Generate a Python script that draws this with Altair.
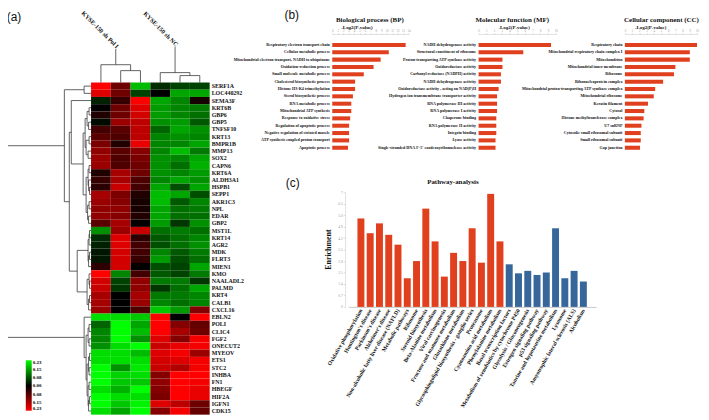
import altair as alt
import pandas as pd

# ---------------- data ----------------
genes = ["SERF1A", "LOC440292", "SEMA3F", "KRT6B", "GBP6", "GBP5", "TNFSF10", "KRT13", "BMPR1B", "MMP13",
         "SOX2", "CAPN6", "KRT6A", "ALDH3A1", "HSPB1", "SEPP1", "AKR1C3", "NPL", "EDAR", "GBP2",
         "MST1L", "KRT14", "AGR2", "MDK", "FLRT3", "MIEN1", "KMO", "NAALADL2", "PALMD", "KRT4",
         "CALB1", "CXCL16", "EBLN2", "POLI", "CLIC4", "FGF2", "ONECUT2", "MYEOV", "ETS1", "STC2",
         "INHBA", "FN1", "HBEGF", "HIF2A", "IGFN1", "CDK15"]
samples = ["Pol I-1", "Pol I-2", "Pol I-3", "NC-1", "NC-2", "NC-3"]

pol1_rep1 = [0.23, 0.20, -0.03, 0.00, 0.03, -0.01, 0.06, 0.08, 0.11, 0.13,
             0.14, 0.14, 0.03, 0.05, 0.04, 0.15, 0.14, 0.13, 0.13, 0.08,
             -0.13, -0.04, -0.03, -0.02, -0.02, 0.04, 0.23, 0.19, 0.18, 0.15,
             0.15, 0.14, -0.20, -0.09, -0.12, -0.12, -0.13, -0.20, -0.20, -0.23,
             -0.23, -0.23, -0.20, -0.23, -0.23, -0.20]
pol1_rep2 = [0.10, 0.10, 0.05, 0.10, 0.10, 0.14, 0.08, 0.07, 0.03, 0.08,
             0.07, 0.07, 0.15, 0.15, 0.18, 0.11, 0.12, 0.13, 0.12, 0.15,
             0.14, 0.20, 0.20, 0.19, 0.19, 0.19, -0.12, -0.06, -0.05, 0.00,
             0.00, 0.00, -0.20, -0.23, -0.23, -0.23, -0.20, -0.20, -0.20, -0.13,
             -0.19, -0.18, -0.16, -0.20, -0.18, -0.15]
pol1_rep3 = [-0.17, -0.06, 0.23, 0.20, 0.19, 0.17, 0.17, 0.17, 0.21, 0.12,
             0.11, 0.10, 0.10, 0.07, 0.06, 0.03, 0.02, 0.02, 0.03, 0.00,
             0.18, 0.04, 0.06, 0.06, 0.05, 0.00, 0.06, 0.13, 0.13, 0.15,
             0.14, 0.07, -0.18, -0.15, -0.17, -0.13, -0.23, -0.17, -0.20, -0.21,
             -0.20, -0.18, -0.23, -0.20, -0.22, -0.23]
nc_rep1 = [-0.04, 0.00, -0.15, -0.14, -0.14, -0.13, -0.09, -0.12, -0.12, -0.12,
           -0.13, -0.13, -0.13, -0.12, -0.15, -0.17, -0.17, -0.15, -0.15, -0.14,
           -0.10, -0.08, -0.07, -0.12, -0.14, -0.07, -0.08, -0.11, -0.05, -0.11,
           -0.12, -0.18, 0.23, 0.23, 0.23, 0.20, 0.18, 0.20, 0.19, 0.18,
           0.12, 0.13, 0.12, 0.11, 0.20, 0.12]
nc_rep2 = [-0.06, -0.15, -0.12, -0.12, -0.12, -0.14, -0.15, -0.13, -0.12, -0.17,
           -0.12, -0.10, -0.12, -0.15, -0.07, -0.15, -0.08, -0.10, -0.10, -0.05,
           -0.11, -0.10, -0.10, -0.08, -0.07, -0.06, -0.06, -0.11, -0.10, -0.11,
           -0.10, -0.14, 0.00, 0.12, 0.15, 0.12, 0.21, 0.22, 0.20, 0.16,
           0.23, 0.23, 0.23, 0.23, 0.17, 0.22]
nc_rep3 = [-0.06, -0.15, 0.02, -0.11, -0.10, -0.08, -0.13, -0.12, -0.15, -0.11,
           -0.15, -0.16, -0.14, -0.13, -0.15, -0.07, -0.12, -0.11, -0.10, -0.13,
           -0.10, -0.12, -0.13, -0.11, -0.10, -0.15, -0.11, -0.05, -0.15, -0.12,
           -0.12, 0.12, 0.23, 0.09, 0.10, 0.22, 0.22, 0.14, 0.22, 0.22,
           0.23, 0.22, 0.21, 0.21, 0.10, 0.09]
legend_ticks = [-0.23, -0.15, -0.08, 0.0, 0.08, 0.15, 0.23]

# dendrograms: (merge height, left, right); ints are leaf indices
row_tree = (90,
            (27, (7, 0, 1),
                 (22, (20, 2, (8, (6, (4, (2, 3, 4), (2.5, 5, 6)), (5, (2, 7, 8), (3, 9, 10))),
                                  (5, (3, (2, 11, 12), (2.5, 13, (1.5, 14, 15))), (3.5, (2, 16, 17), (2.5, 18, 19))))),
                      (14, (3, (2, (1.5, 20, 21), 22), (2.5, (1.5, 23, 24), 25)),
                           (4, (2, 26, (1.5, 27, 28)), (2.5, (1.5, 29, 30), 31))))),
            (7, 32, (5, (3, (2, 33, 34), (2, 35, 36)),
                        (4, (2.5, (1.5, 37, 38), (2, 39, 40)), (3, (2, 41, 42), (2.5, (1.5, 43, 44), 45))))))
pol1_tree, pol1_top = (18, 0, (12, 1, 2)), 34
nc_tree, nc_top = (10, 3, (7, 4, 5)), 36
col_groups = ["KYSE-150 sh Pol I", "KYSE-150 sh NC"]

bp_terms = ["Respiratory electron transport chain", "Cellular metabolic process",
            "Mitochondrial electron transport, NADH to ubiquinone", "Oxidation-reduction process",
            "Small molecule metabolic process", "Cholesterol biosynthetic process",
            "Histone H3-K4 trimethylation", "Sterol biosynthetic process", "RNA metabolic process",
            "Mitochondrial ATP synthesis", "Response to oxidative stress", "Regulation of apoptotic process",
            "Negative regulation of striated muscle", "ATP synthesis coupled proton transport", "Apoptotic process"]
bp_values = [13.5, 10.4, 8.9, 7.6, 5.8, 4.2, 4.2, 3.8, 3.5, 3.5, 3.3, 3.1, 3.1, 3.1, 2.9]
mf_terms = ["NADH dehydrogenase activity", "Structural constituent of ribosome",
            "Proton-transporting ATP synthase activity", "Oxidoreductase activity",
            "Carbonyl reductase (NADPH) activity", "NADH dehydrogenase activity ",
            "Oxidoreductase activity , acting on NAD(P)H", "Hydrogen ion transmembrane transporter activity",
            "RNA polymerase III activity", "RNA polymerase I activity", "Chaperone binding",
            "RNA polymerase II activity", "Integrin binding", "Lyase activity",
            "Single-stranded DNA 3'-5' exodeoxyribonuclease activity"]
mf_values = [9.4, 5.8, 3.1, 3.1, 2.9, 2.9, 2.6, 2.4, 2.4, 2.4, 2.3, 2.3, 2.3, 2.2, 2.2]
cc_terms = ["Respiratory chain", "Mitochondrial respiratory chain complex I", "Mitochondrion",
            "Mitochondrial inner membrane", "Ribosome", "Ribonucleoprotein complex",
            "Mitochondrial proton-transporting ATP synthase complex", "Mitochondrial ribosome",
            "Keratin filament", "Cytosol", "Histone methyltransferase complex", "U7 snRNP",
            "Cytosolic small ribosomal subunit", "Small ribosomal subunit", "Gap junction"]
cc_values = [10.0, 9.0, 9.0, 7.0, 6.8, 5.3, 4.2, 4.0, 3.2, 2.7, 2.6, 2.3, 2.2, 2.2, 2.1]

up_pathways = ["Oxidative phosphorylation", "Huntington's disease", "Parkinson's disease", "Alzheimer's disease",
               "Non-alcoholic fatty liver disease (NAFLD)", "Metabolic pathways", "Ribosome",
               "Steroid biosynthesis", "Beta-Alanine metabolism", "Viral carcinogenesis",
               "Fructose and mannose metabolism", "Glutathione metabolism",
               "Glycosphingolipid biosynthesis - ganglio series", "Proteasome",
               "Cyanoamino acid metabolism", "Phenylalanine metabolism"]
up_enrich = [5.4, 4.5, 5.1, 4.4, 3.8, 1.75, 2.8, 6.0, 4.0, 1.85, 3.3, 2.8, 4.8, 2.7, 6.9, 4.0]
down_pathways = ["Basal transcription factors", "Metabolism of xenobiotics by cytochrome P450",
                 "Glycolysis / Gluconeogenesis", "Estrogen signaling pathway", "p53 signaling pathway",
                 "Taurine and hypotaurine metabolism", "Lysosome", "Amyotrophic lateral sclerosis (ALS)",
                 "Alcoholism"]
down_enrich = [2.6, 2.05, 2.2, 1.95, 2.1, 4.8, 1.75, 2.2, 1.55]
enrich_ticks = [0, 0.7, 1.4, 2.1, 2.8, 3.5, 4.2, 4.9, 5.6, 6.3, 7]

# ---------------- layout / style ----------------
W, H = 701, 409
RED, BLUE = "#E1401F", "#37679A"
SERIF, SANS = "Liberation Serif", "Liberation Sans"
LINE = "#3a3a3a"


def tree_segments(node, segs):
    if isinstance(node, int):
        return node + 0.5, 0.0
    h, left, right = node
    pl, hl = tree_segments(left, segs)
    pr, hr = tree_segments(right, segs)
    segs.append(dict(p1=pl, p2=pr, h1=h, h2=h))
    segs.append(dict(p1=pl, p2=pl, h1=hl, h2=h))
    segs.append(dict(p1=pr, p2=pr, h1=hr, h2=h))
    return (pl + pr) / 2, h


# heatmap
heat_rows = []
for s, col in zip(samples, [pol1_rep1, pol1_rep2, pol1_rep3, nc_rep1, nc_rep2, nc_rep3]):
    for g, v in zip(genes, col):
        heat_rows.append(dict(gene=g, sample=s, value=v))
heat_df = pd.DataFrame(heat_rows)

heat_y = alt.Y("gene:N", sort=genes, axis=None,
               scale=alt.Scale(range=[73, H], paddingInner=0, paddingOuter=0))
# the colour channel uses the negated value so that the vertical legend shows green on top
heat = alt.Chart(heat_df).transform_calculate(shade="-datum.value").mark_rect().encode(
    x=alt.X("sample:N", sort=samples, axis=None,
            scale=alt.Scale(range=[84, 204], paddingInner=0, paddingOuter=0)),
    y=heat_y,
    color=alt.Color("shade:Q",
                    scale=alt.Scale(domain=[-0.23, 0, 0.23], range=["#ff0000", "#000000", "#00ff00"],
                                    interpolate="rgb"),
                    legend=alt.Legend(orient="none", legendX=18, legendY=354, direction="vertical",
                                      gradientLength=51, gradientThickness=6, values=legend_ticks,
                                      labelExpr="format(abs(datum.value), '.2f')", labelFont=SERIF,
                                      labelFontWeight="bold", labelFontSize=5, labelOffset=1,
                                      labelOverlap=False, title=None, padding=0, gradientStrokeWidth=0)),
)
gene_text = alt.Chart(pd.DataFrame(dict(gene=genes))).mark_text(
    align="left", baseline="middle", font=SERIF, fontWeight="bold", fontSize=6, color="#111"
).encode(y=heat_y, x=alt.value(206), text="gene:N")
heat_layer = alt.layer(heat, gene_text)

# row dendrogram
row_segs = []
tree_segments(row_tree, row_segs)
row_dend = alt.Chart(pd.DataFrame(row_segs)).mark_rule(color=LINE, strokeWidth=0.8).encode(
    x=alt.X("h1:Q", axis=None, scale=alt.Scale(domain=[0, 90], range=[84, -6], nice=False, zero=False)),
    x2="h2:Q",
    y=alt.Y("p1:Q", axis=None, scale=alt.Scale(domain=[0, 46], range=[73, H], nice=False, zero=False)),
    y2="p2:Q",
)

# column dendrogram
col_segs, lab_rows = [], []
for tree, top, name in [(pol1_tree, pol1_top, col_groups[0]), (nc_tree, nc_top, col_groups[1])]:
    p, h = tree_segments(tree, col_segs)
    col_segs.append(dict(p1=p, p2=p, h1=h, h2=top))
    lab_rows.append(dict(label=name, p=p + 0.1, h=top + 1.5))
cx = alt.Scale(domain=[0, 6], range=[84, 204], nice=False, zero=False)
cy = alt.Scale(domain=[0, 40], range=[73, 33], nice=False, zero=False)
col_dend = alt.Chart(pd.DataFrame(col_segs)).mark_rule(color=LINE, strokeWidth=0.8).encode(
    x=alt.X("p1:Q", axis=None, scale=cx), x2="p2:Q",
    y=alt.Y("h1:Q", axis=None, scale=cy), y2="h2:Q",
)
col_lab = alt.Chart(pd.DataFrame(lab_rows)).mark_text(
    angle=45, align="right", baseline="middle", font=SERIF, fontWeight="bold", fontSize=6.3, color="#111"
).encode(x=alt.X("p:Q", axis=None, scale=cx), y=alt.Y("h:Q", axis=None, scale=cy), text="label:N")
col_layer = alt.layer(col_dend, col_lab)


# GO bar panels
def go_panel(terms, values, x0, x1, dmax):
    df = pd.DataFrame(dict(term=terms, value=values))
    return alt.Chart(df).mark_bar(color=RED).encode(
        x=alt.X("value:Q",
                scale=alt.Scale(domain=[0, dmax], range=[x0, x1], nice=False, zero=True),
                axis=alt.Axis(orient="top", offset=-24, values=list(range(dmax + 1)), title=None, grid=False,
                              labelFontSize=3, labelColor="#999", labelPadding=0.5, tickSize=1.5,
                              tickColor="#bbb", tickWidth=0.5, domainColor="#ccc", domainWidth=0.6,
                              labelFont=SERIF, labelFlush=False, labelOverlap=False)),
        y=alt.Y("term:N", sort=terms,
                scale=alt.Scale(range=[31.3, 142.7], paddingInner=0.45, paddingOuter=0.225),
                axis=alt.Axis(orient="left", offset=-x0, title=None, domain=False, ticks=False,
                              labelFont=SERIF, labelFontWeight="bold", labelFontSize=4.1, labelPadding=3,
                              labelLimit=300, labelColor="#111", labelOverlap=False)),
    )


bp = go_panel(bp_terms, bp_values, 328, 405, 14)
mf = go_panel(mf_terms, mf_values, 476, 554, 10)
cc = go_panel(cc_terms, cc_values, 624, 697, 10)

# pathway panel
path_df = pd.DataFrame(dict(
    pathway=up_pathways + down_pathways,
    enrichment=up_enrich + down_enrich,
    group=["up"] * len(up_pathways) + ["down"] * len(down_pathways),
))
path = alt.Chart(path_df).mark_bar().encode(
    x=alt.X("pathway:N", sort=up_pathways + down_pathways,
            scale=alt.Scale(range=[344.1, 594.9], paddingInner=0.25, paddingOuter=1.0),
            axis=alt.Axis(orient="bottom", offset=-(H - 300), labelAngle=-60, title=None, ticks=False,
                          labelFont=SERIF, labelFontWeight="bold", labelFontSize=5.7, labelColor="#111",
                          labelPadding=2, labelLimit=300, labelOverlap=False, domainColor="#bbb",
                          domainWidth=0.8)),
    y=alt.Y("enrichment:Q",
            scale=alt.Scale(domain=[0, 7], range=[300, 184], nice=False, zero=True),
            axis=alt.Axis(orient="left", offset=-341, values=enrich_ticks, format="~g", title=None,
                          grid=False, labelFontSize=3.5, labelColor="#999", labelPadding=1, tickSize=2,
                          tickColor="#bbb", tickWidth=0.5, domainColor="#ccc", domainWidth=0.6,
                          labelFont=SERIF, labelFlush=False, labelOverlap=False)),
    color=alt.Color("group:N", scale=alt.Scale(domain=["up", "down"], range=[RED, BLUE]), legend=None),
)


def label(text, x, y, size, font=SERIF, weight="bold", angle=0):
    return alt.Chart(alt.Data(values=[{}])).mark_text(
        text=text, font=font, fontWeight=weight, fontSize=size, angle=angle,
        align="center", baseline="middle", color="#111"
    ).encode(x=alt.value(x), y=alt.value(y))


texts = [
    label("(a)", 6, 7, 12, SANS, "normal"),
    label("(b)", 287, 5, 12, SANS, "normal"),
    label("(c)", 288, 175, 12, SANS, "normal"),
    label("Biological process (BP)", 366, 10, 7),
    label("Molecular function (MF)", 510, 10, 7),
    label("Cellular component (CC)", 661, 10, 7),
    label("-Log2(P-value)", 353, 17, 5),
    label("-Log2(P-value)", 512, 17, 5),
    label("-Log2(P-value)", 650, 17, 5),
    label("Pathway-analysis", 450, 174, 7),
    label("Enrichment", 325, 242, 8, angle=270),
]

chart = alt.layer(heat_layer, row_dend, col_layer, bp, mf, cc, path, *texts).resolve_scale(
    x="independent", y="independent", color="independent"
).properties(
    width=W, height=H, padding=0, autosize=alt.AutoSizeParams(type="none")
).configure_view(strokeWidth=0)

chart.save("out.html", embed_options={"renderer": "svg", "actions": False})
